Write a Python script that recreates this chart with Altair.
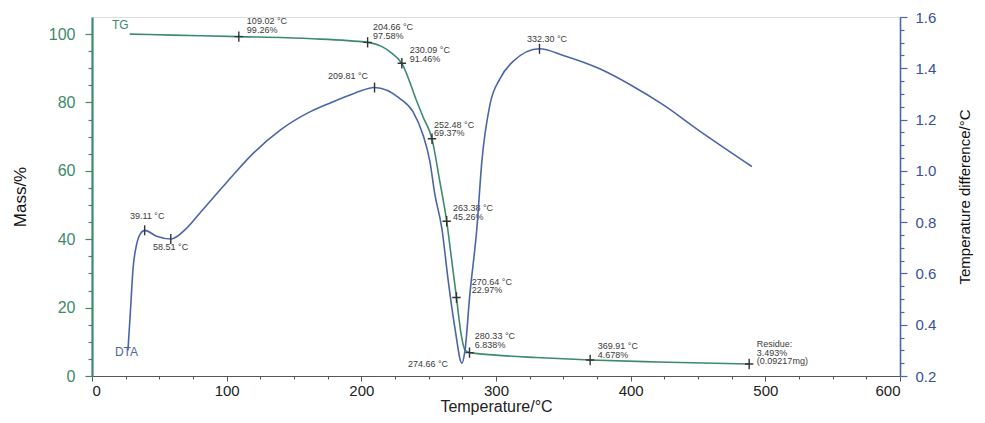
import altair as alt
import pandas as pd

# ---- TG curve (mass %) ----
tg_temp = [28, 60, 109.02, 160, 204.66, 215, 222, 230.09, 241.3, 246, 252.48,
           258, 263.38, 267, 270.64, 274, 277, 280.33, 300, 330, 369.91, 420, 488]
tg_mass = [100.0, 99.7, 99.26, 98.7, 97.58, 96.4, 94.6, 91.46, 80.2, 75.6, 69.37,
           57.5, 45.26, 34.2, 22.97, 12.5, 7.6, 6.838, 6.1, 5.4, 4.678, 4.1, 3.493]

# ---- DTA curve (temperature difference, °C) ----
dta_temp = [26.7, 28.5, 30.5, 33, 36, 39.11, 48, 58.51, 70, 80, 90, 105, 120,
            140, 160, 177, 195, 209.81, 228.7, 238.3, 245.7, 250.9, 254.6, 259.8,
            264.3, 269.5, 274.66, 276.9, 280.6, 285.8, 289.5, 295.5, 303, 312.5,
            332.3, 350, 377, 400, 424, 450, 490]
dta_val = [0.30, 0.45, 0.62, 0.71, 0.755, 0.768, 0.745, 0.734, 0.775, 0.835, 0.895,
           0.985, 1.07, 1.16, 1.225, 1.265, 1.303, 1.325, 1.282, 1.231, 1.142, 1.037,
           0.908, 0.776, 0.581, 0.387, 0.25, 0.297, 0.519, 0.776, 1.037, 1.258,
           1.36, 1.426, 1.476, 1.45, 1.398, 1.335, 1.258, 1.16, 1.017]

# ---- marked points ----
tg_mark_temp = [109.02, 204.66, 230.09, 252.48, 263.38, 270.64, 280.33, 369.91, 488]
tg_mark_mass = [99.26, 97.58, 91.46, 69.37, 45.26, 22.97, 6.838, 4.678, 3.493]
dta_mark_temp = [39.11, 58.51, 209.81, 332.3]
dta_mark_val = [0.768, 0.734, 1.325, 1.476]

# ---- annotations (text, anchor temperature, anchor mass) ----
ann_text = ["109.02 °C\n99.26%", "204.66 °C\n97.58%", "230.09 °C\n91.46%",
            "209.81 °C", "252.48 °C\n69.37%", "332.30 °C", "263.38 °C\n45.26%",
            "270.64 °C\n22.97%", "280.33 °C\n6.838%", "274.66 °C",
            "369.91 °C\n4.678%", "Residue:\n3.493%\n(0.09217mg)",
            "39.11 °C", "58.51 °C"]
ann_temp = [115, 208.6, 236, 175.2, 254, 323, 268, 282, 284.3, 234.6,
            375.6, 493.7, 28.2, 45.3]
ann_mass = [104.9, 103.2, 96.5, 89.0, 74.7, 99.7, 50.3, 28.8, 12.8, 4.7,
            9.9, 10.5, 48.0, 39.0]

series_text = ["TG", "DTA"]
series_temp = [14.8, 17]
series_mass = [102.6, 7.0]

TEAL = "#3d8a6c"
BLUE = "#4a66a8"
FONT = "Liberation Sans"

tg = pd.DataFrame({"T": tg_temp, "m": tg_mass})
dta = pd.DataFrame({"T": dta_temp, "d": dta_val})
tgm = pd.DataFrame({"T": tg_mark_temp, "m": tg_mark_mass})
dtam = pd.DataFrame({"T": dta_mark_temp, "d": dta_mark_val})
ann = pd.DataFrame({"T": ann_temp, "m": ann_mass, "t": ann_text})
ser = pd.DataFrame({"T": series_temp, "m": series_mass, "t": series_text})

xscale = alt.Scale(domain=[0, 600], nice=False)
xaxis = alt.Axis(
    title="Temperature/°C", values=list(range(0, 601, 25)),
    labelExpr="datum.value % 100 === 0 ? datum.label : ''",
    tickSize={"condition": {"test": "datum.value % 100 === 0", "value": 5}, "value": 3},
    grid=False, domainColor="#555", tickColor="#555", domainWidth=1.2,
    labelFont=FONT, labelFontSize=15, labelColor="#222", labelPadding=2,
    titleFont=FONT, titleFontSize=16, titleFontWeight="normal", titleColor="#222",
    titlePadding=0)
x = alt.X("T:Q", scale=xscale, axis=xaxis)

lscale = alt.Scale(domain=[0, 105], nice=False, zero=False)
laxis = alt.Axis(
    title="Mass/%", values=list(range(0, 101, 5)),
    labelExpr="datum.value % 20 === 0 ? datum.label : ''",
    tickSize={"condition": {"test": "datum.value % 20 === 0", "value": 7}, "value": 4},
    grid=False, domainColor=TEAL, domainWidth=2.2, tickColor=TEAL, tickWidth=1.2,
    labelFont=FONT, labelFontSize=16, labelColor=TEAL, labelPadding=10,
    titleFont=FONT, titleFontSize=17, titleFontWeight="normal", titleColor="#111",
    titlePadding=19)

rscale = alt.Scale(domain=[0.2, 1.6], nice=False, zero=False)
raxis = alt.Axis(
    title="Temperature difference/°C", orient="right",
    values=[round(0.2 + 0.05 * i, 2) for i in range(29)],
    labelExpr="round(datum.value * 100) % 20 === 0 ? format(datum.value, '.1f') : ''",
    tickSize={"condition": {"test": "round(datum.value * 100) % 20 === 0", "value": 7}, "value": 4},
    grid=False, domainColor=BLUE, domainWidth=1.6, tickColor=BLUE, tickWidth=1.2,
    labelFont=FONT, labelFontSize=15, labelColor="#3a4f9a", labelPadding=8,
    titleFont=FONT, titleFontSize=15, titleFontWeight="normal", titleColor="#111",
    titleAngle=270, titleBaseline="top", titlePadding=22)

tg_line = alt.Chart(tg).mark_line(color=TEAL, strokeWidth=1.6, interpolate="monotone").encode(
    x=x, y=alt.Y("m:Q", scale=lscale, axis=laxis))
tg_marks = alt.Chart(tgm).mark_point(
    shape="M0,-1V1M-0.8,0H0.8", size=110, color="#333", strokeWidth=1.4, filled=False, opacity=1
).encode(x=x, y=alt.Y("m:Q", scale=lscale, axis=laxis))
ann_layer = alt.Chart(ann).mark_text(
    align="left", baseline="top", font=FONT, fontSize=9, color="#3a3a3a", lineBreak="\n", lineHeight=8.5
).encode(x=x, y=alt.Y("m:Q", scale=lscale, axis=laxis), text="t:N")
ser_layer = alt.Chart(ser).mark_text(
    align="left", baseline="middle", font=FONT, fontSize=12
).encode(x=x, y=alt.Y("m:Q", scale=lscale, axis=laxis), text="t:N",
         color=alt.Color("t:N", scale=alt.Scale(domain=series_text, range=[TEAL, BLUE]), legend=None))

left = alt.layer(tg_line, tg_marks, ann_layer, ser_layer)

dta_line = alt.Chart(dta).mark_line(color=BLUE, strokeWidth=1.6, interpolate="monotone").encode(
    x=x, y=alt.Y("d:Q", scale=rscale, axis=raxis))
dta_marks = alt.Chart(dtam).mark_point(
    shape="M0,-1V1", size=100, color="#333", strokeWidth=1.4, filled=False, opacity=1
).encode(x=x, y=alt.Y("d:Q", scale=rscale, axis=raxis))
right = alt.layer(dta_line, dta_marks)

chart = alt.layer(left, right).resolve_scale(y="independent", color="independent").properties(
    width=808, height=359,
    autosize=alt.AutoSizeParams(type="none"),
    padding={"left": 84, "top": 9, "right": 77, "bottom": 39},
).configure_view(
    fill="#eef1f9", stroke="#4f5a78", strokeWidth=1.5
).configure(background="white")

chart.save("out.html", embed_options={"renderer": "svg", "actions": False})
